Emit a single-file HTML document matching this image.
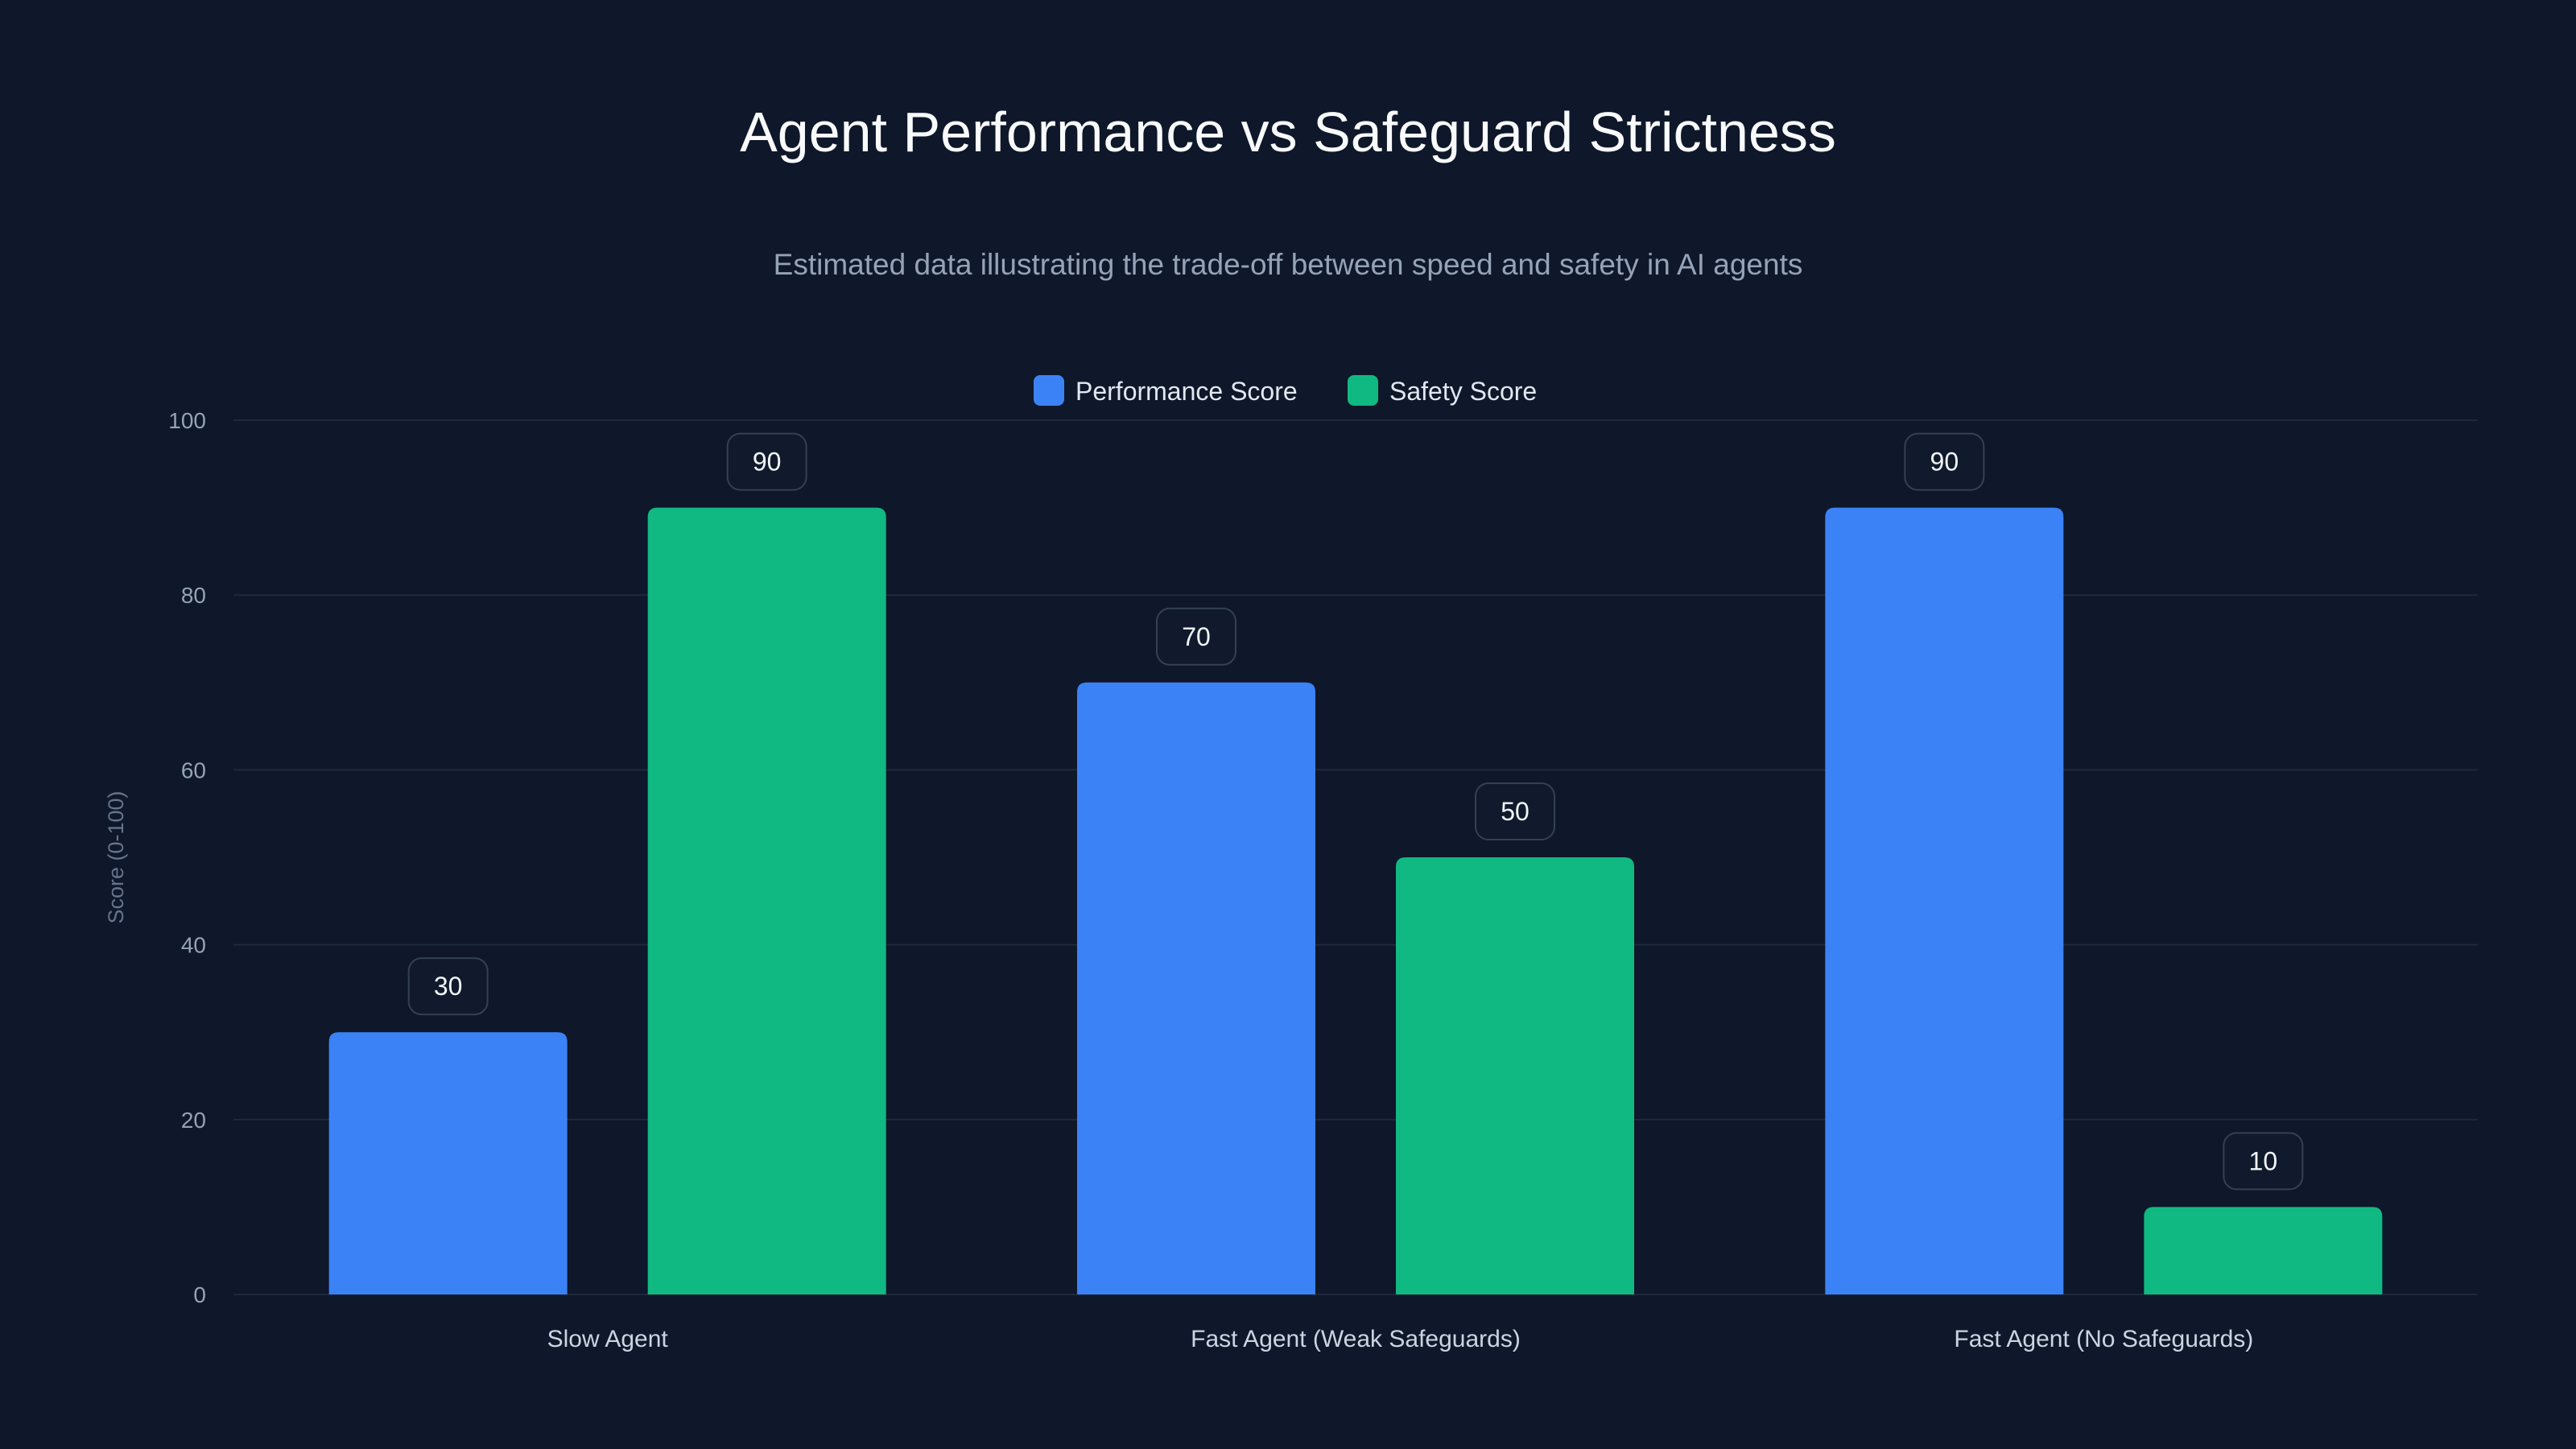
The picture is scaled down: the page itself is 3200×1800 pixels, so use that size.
<!DOCTYPE html>
<html><head><meta charset="utf-8"><style>
html,body{margin:0;padding:0;background:#0f172a;}
svg{display:block;font-family:"Liberation Sans",sans-serif;}
</style></head><body>
<svg id="chart" width="3200" height="1800" viewBox="0 0 3200 1800">
<rect width="3200" height="1800" fill="#0f172a"/>
<text x="1600" y="188" text-anchor="middle" font-size="70" fill="#f8fafc">Agent Performance vs Safeguard Strictness</text>
<text x="1600" y="341" text-anchor="middle" font-size="37" fill="#94a3b8">Estimated data illustrating the trade-off between speed and safety in AI agents</text>
<g>
<g><rect x="1284" y="466" width="38" height="38" rx="8" fill="#3b82f6"/><text x="1336" y="497" font-size="32" fill="#e2e8f0">Performance Score</text></g>
<g><rect x="1674" y="466" width="38" height="38" rx="8" fill="#10b981"/><text x="1726" y="497" font-size="32" fill="#e2e8f0">Safety Score</text></g>
</g>
<text transform="translate(153,1065) rotate(-90)" text-anchor="middle" font-size="27" fill="#64748b">Score (0-100)</text>
<g id="grid"></g><g id="bars"></g>
</svg>
<script>
const categories = ["Slow Agent","Fast Agent (Weak Safeguards)","Fast Agent (No Safeguards)"];
const performance = [30,70,90];
const safety = [90,50,10];
const yTicks = [0,20,40,60,80,100];
const NS="http://www.w3.org/2000/svg";
const x0=290,x1=3078,yTop=522,yBot=1608;
const y=v=>yBot-(v/100)*(yBot-yTop);
const bw=(x1-x0)/categories.length;
const cx=i=>x0+bw*(i+0.5);
function mk(t,a,p){const e=document.createElementNS(NS,t);for(const k in a)e.setAttribute(k,a[k]);p.appendChild(e);return e;}
const grid=document.getElementById('grid'),bars=document.getElementById('bars');
yTicks.forEach(t=>{
 const l=mk('line',{x1:x0,x2:x1,y1:y(t),y2:y(t),stroke:'#1e293b','stroke-width':2},grid);
 
 
 const tx=mk('text',{x:256,y:y(t)+10,'text-anchor':'end','font-size':28,fill:'#94a3b8'},grid);
 tx.textContent=t;
 
 
});
const W=296;
function bar(i,v,off,col,name){
 const xl=cx(i)+off-W/2, top=y(v), r=12;
 const p=mk('path',{d:`M${xl},${yBot} V${top+r} Q${xl},${top} ${xl+r},${top} H${xl+W-r} Q${xl+W},${top} ${xl+W},${top+r} V${yBot} Z`,fill:col},bars);
 
 
 const bx=mk('rect',{x:cx(i)+off-49,y:top-92,width:98,height:70,rx:16,fill:'#111a2c',stroke:'#334155','stroke-width':2},bars);
 
 
 const t=mk('text',{x:cx(i)+off,y:top-46,'text-anchor':'middle','font-size':32,fill:'#f1f5f9'},bars);
 t.textContent=v;
 
 
}
categories.forEach((c,i)=>{
 bar(i,performance[i],-198,'#3b82f6','performance');
 bar(i,safety[i],198,'#10b981','safety');
 const t=mk('text',{x:cx(i),y:1673,'text-anchor':'middle','font-size':30,fill:'#cbd5e1'},bars);
 t.textContent=c;
 
 
});
</script>
</body></html>
